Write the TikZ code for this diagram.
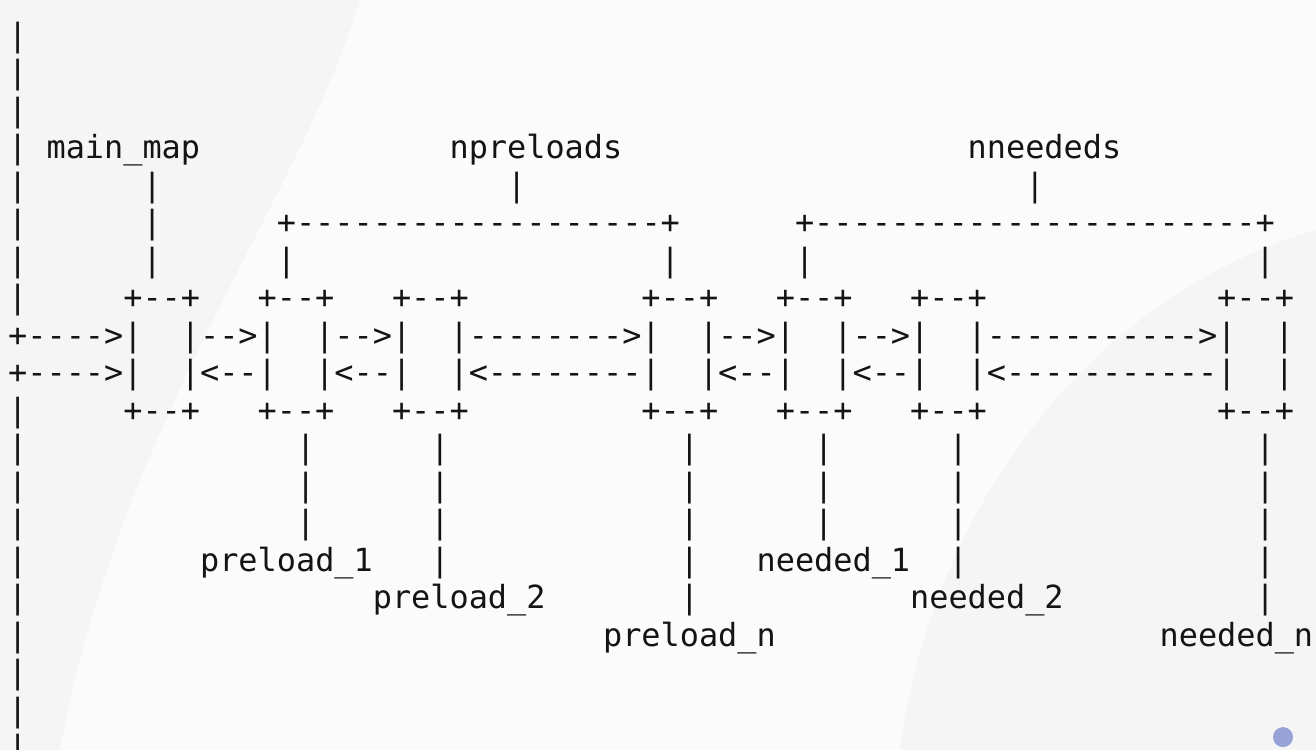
\documentclass[tikz,border=0pt]{standalone}
\usepackage{fontspec}
\setmonofont{DejaVu Sans Mono}
\definecolor{paper}{RGB}{251,251,251}
\definecolor{smudge}{RGB}{245,245,245}
\definecolor{dotblue}{RGB}{152,162,214}
\tikzset{
  asc/.style={inner sep=0pt, outer sep=0pt, anchor=base west, text=black!92,
    font=\ttfamily\fontsize{31.88pt}{37.5pt}\selectfont},
}

\begin{document}
\begin{tikzpicture}[x=19.19pt, y=-37.5pt]
\fill[paper] (-0.4273,-0.2267) rectangle (68.150,19.773);
\useasboundingbox (-0.4273,-0.2267) rectangle (68.150,19.773);
\begin{scope}[shift={(-0.4273,-0.2267)}, x=1pt, y=-1pt]
\fill[smudge] (0,0) -- (360,0) .. controls (300,200) and (120,420) .. (60,750) -- (0,750) -- cycle;
\fill[smudge] (1316,230) .. controls (1080,300) and (930,520) .. (900,750) -- (1316,750) -- cycle;
\end{scope}

\foreach \r in {1,...,8,11,12,...,20}
	\node[asc] (rail\r) at (0,\r) {|};

\node[asc] (mainmap) at (2,4) {main\_map};
\node[asc] (npre) at (23,4) {npreloads};
\node[asc] (nneed) at (50,4) {nneededs};

\foreach \c/\r in {7/5,26/5,53/5,7/6,7/7,14/7,34/7,41/7,65/7}
	\node[asc] (bar\c-\r) at (\c,\r) {|};
\node[asc] (brpre) at (14,6) {+-------------------+};
\node[asc] (brneed) at (41,6) {+-----------------------+};

\foreach \c in {6,13,20,33,40,47,63} {
	\node[asc] (top\c) at (\c,8) {+--+};
	\node[asc] (bot\c) at (\c,11) {+--+};
}

\node[asc] (in9) at (0,9) {+---->|};
\node[asc] (in10) at (0,10) {+---->|};
\foreach \c in {9,16,36,43} {
	\node[asc] (nx\c) at (\c,9) {|-->|};
	\node[asc] (pv\c) at (\c,10) {|<--|};
}
\node[asc] (nx23) at (23,9) {|-------->|};
\node[asc] (pv23) at (23,10) {|<--------|};
\node[asc] (nx50) at (50,9) {|----------->|};
\node[asc] (pv50) at (50,10) {|<-----------|};
\node[asc] (nx66) at (66,9) {|};
\node[asc] (pv66) at (66,10) {|};

\foreach \r in {12,13,14}
	\foreach \c in {15,22,35,42,49,65}
		\node[asc] (leg\c-\r) at (\c,\r) {|};
\foreach \c/\r in {22/15,35/15,49/15,65/15,35/16,65/16}
	\node[asc] (leg\c-\r) at (\c,\r) {|};

\node[asc] (pre1) at (10,15) {preload\_1};
\node[asc] (need1) at (39,15) {needed\_1};
\node[asc] (pre2) at (19,16) {preload\_2};
\node[asc] (need2) at (47,16) {needed\_2};
\node[asc] (pren) at (31,17) {preload\_n};
\node[asc] (needn) at (60,17) {needed\_n};

\fill[dotblue] (66.43,19.43) circle[radius=10pt];
\end{tikzpicture}
\end{document}
